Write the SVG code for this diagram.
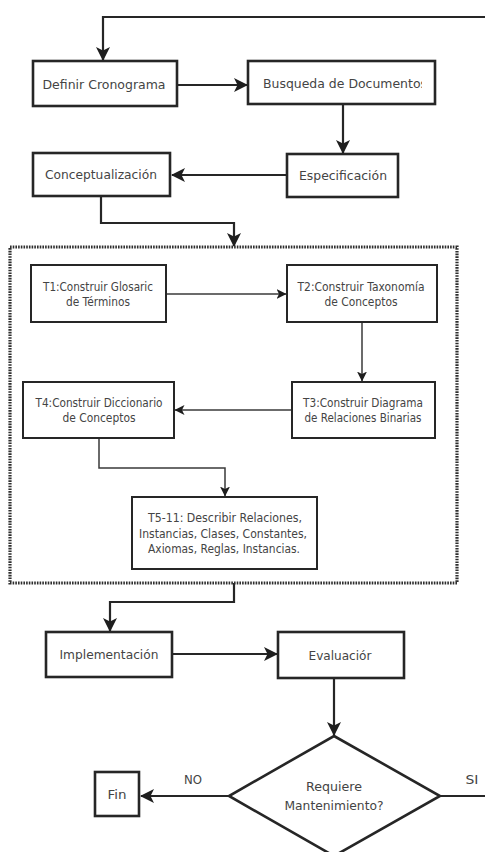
<svg xmlns="http://www.w3.org/2000/svg" width="485" height="852" viewBox="0 0 485 852">
  <style>
    .box { fill: #ffffff; stroke: #262626; stroke-width: 2.6; }
    .inner { fill: #ffffff; stroke: #262626; stroke-width: 2; }
    .frame { fill: none; stroke: #2e2e2e; stroke-width: 3.2; stroke-dasharray: 1.6 1.1; }
    .main { fill: none; stroke: #262626; stroke-width: 2.2; }
    .thin { fill: none; stroke: #3a3a3a; stroke-width: 1.5; }
    text { font-family: "DejaVu Sans", Verdana, sans-serif; font-size: 12.5px; fill: #444444; text-anchor: middle; }
    .sm { font-size: 12.5px; }
  </style>
  <defs>
    <marker id="big" viewBox="0 0 14 14" refX="13" refY="7" markerWidth="14" markerHeight="14" markerUnits="userSpaceOnUse" orient="auto">
      <path d="M0,0 L14,7 L0,14 L3.5,7 Z" fill="#1e1e1e"/>
    </marker>
    <marker id="small" viewBox="0 0 10 10" refX="9.5" refY="5" markerWidth="10" markerHeight="10" markerUnits="userSpaceOnUse" orient="auto">
      <path d="M0,0 L10,5 L0,10 L2.5,5 Z" fill="#1e1e1e"/>
    </marker>
    <clipPath id="clipBusqueda">
      <rect x="249" y="62" width="173" height="41"/>
    </clipPath>
  </defs>

  <!-- connectors -->
  <g id="connectors">
    <polyline class="main" points="485,17 103,17 103,60" marker-end="url(#big)"/>
    <line class="main" x1="177" y1="85" x2="247" y2="85" marker-end="url(#big)"/>
    <line class="main" x1="343" y1="104" x2="343" y2="153" marker-end="url(#big)"/>
    <line class="main" x1="287" y1="175" x2="172" y2="175" marker-end="url(#big)"/>
    <polyline class="main" points="101,196 101,223 234,223 234,246" marker-end="url(#big)"/>
    <line class="thin" x1="166" y1="294" x2="286" y2="294" marker-end="url(#small)"/>
    <line class="thin" x1="362" y1="322" x2="362" y2="381" marker-end="url(#small)"/>
    <line class="thin" x1="292" y1="410" x2="175" y2="410" marker-end="url(#small)"/>
    <polyline class="thin" points="99,438 99,468 225,468 225,496" marker-end="url(#small)"/>
    <polyline class="main" points="234,583 234,602 110,602 110,631" marker-end="url(#big)"/>
    <line class="main" x1="172" y1="654" x2="277" y2="654" marker-end="url(#big)"/>
    <line class="main" x1="334" y1="678" x2="334" y2="735" marker-end="url(#big)"/>
    <line class="main" x1="229" y1="796" x2="141" y2="796" marker-end="url(#big)"/>
    <line class="main" x1="440" y1="796" x2="485" y2="796"/>
    <text x="193" y="784" textLength="18" lengthAdjust="spacingAndGlyphs">NO</text>
    <text x="472" y="784" textLength="13" lengthAdjust="spacingAndGlyphs">SI</text>
  </g>

  <g id="definir">
    <rect class="box" x="33" y="61" width="144" height="45"/>
    <text x="104" y="89" textLength="123" lengthAdjust="spacingAndGlyphs">Definir Cronograma</text>
  </g>
  <g id="busqueda">
    <rect class="box" x="248" y="61" width="187" height="43"/>
    <text x="263" y="88" clip-path="url(#clipBusqueda)" style="text-anchor:start" textLength="164" lengthAdjust="spacingAndGlyphs">Busqueda de Documentos</text>
  </g>
  <g id="especificacion">
    <rect class="box" x="287" y="154" width="111" height="43"/>
    <text x="343" y="180" textLength="88" lengthAdjust="spacingAndGlyphs">Especificación</text>
  </g>
  <g id="conceptualizacion">
    <rect class="box" x="33" y="153" width="137" height="43"/>
    <text x="101" y="179" textLength="112" lengthAdjust="spacingAndGlyphs">Conceptualización</text>
  </g>

  <g id="tareas">
    <rect class="frame" x="10" y="247" width="447" height="336"/>
  </g>
  <g id="t1">
    <rect class="inner" x="31" y="265" width="135" height="57"/>
    <text class="sm" x="98" y="291" textLength="110" lengthAdjust="spacingAndGlyphs">T1:Construir Glosaric</text>
    <text class="sm" x="98" y="306" textLength="64" lengthAdjust="spacingAndGlyphs">de Términos</text>
  </g>
  <g id="t2">
    <rect class="inner" x="287" y="265" width="150" height="57"/>
    <text class="sm" x="361" y="291" textLength="127" lengthAdjust="spacingAndGlyphs">T2:Construir Taxonomía</text>
    <text class="sm" x="361" y="306" textLength="73" lengthAdjust="spacingAndGlyphs">de Conceptos</text>
  </g>
  <g id="t3">
    <rect class="inner" x="292" y="382" width="143" height="56"/>
    <text class="sm" x="363" y="407" textLength="120" lengthAdjust="spacingAndGlyphs">T3:Construir Diagrama</text>
    <text class="sm" x="363" y="422" textLength="117" lengthAdjust="spacingAndGlyphs">de Relaciones Binarias</text>
  </g>
  <g id="t4">
    <rect class="inner" x="23" y="382" width="151" height="56"/>
    <text class="sm" x="99" y="407" textLength="127" lengthAdjust="spacingAndGlyphs">T4:Construir Diccionario</text>
    <text class="sm" x="99" y="422" textLength="73" lengthAdjust="spacingAndGlyphs">de Conceptos</text>
  </g>
  <g id="t5">
    <rect class="inner" x="132" y="497" width="185" height="72"/>
    <text class="sm" x="225" y="522" textLength="154" lengthAdjust="spacingAndGlyphs">T5-11: Describir Relaciones,</text>
    <text class="sm" x="223" y="538" textLength="168" lengthAdjust="spacingAndGlyphs">Instancias, Clases, Constantes,</text>
    <text class="sm" x="224" y="553" textLength="152" lengthAdjust="spacingAndGlyphs">Axiomas, Reglas, Instancias.</text>
  </g>

  <g id="implementacion">
    <rect class="box" x="46" y="632" width="126" height="45"/>
    <text x="109" y="659" textLength="99" lengthAdjust="spacingAndGlyphs">Implementación</text>
  </g>
  <g id="evaluacion">
    <rect class="box" x="278" y="632" width="126" height="46"/>
    <text x="340" y="660" textLength="63" lengthAdjust="spacingAndGlyphs">Evaluaciór</text>
  </g>
  <g id="decision">
    <polygon class="box" points="334,736 440,796 334,856 229,796"/>
    <text x="334" y="791" textLength="56" lengthAdjust="spacingAndGlyphs">Requiere</text>
    <text x="334" y="810" textLength="99" lengthAdjust="spacingAndGlyphs">Mantenimiento?</text>
  </g>
  <g id="fin">
    <rect class="box" x="95" y="772" width="44" height="44"/>
    <text x="117" y="799" textLength="19" lengthAdjust="spacingAndGlyphs">Fin</text>
  </g>
</svg>
